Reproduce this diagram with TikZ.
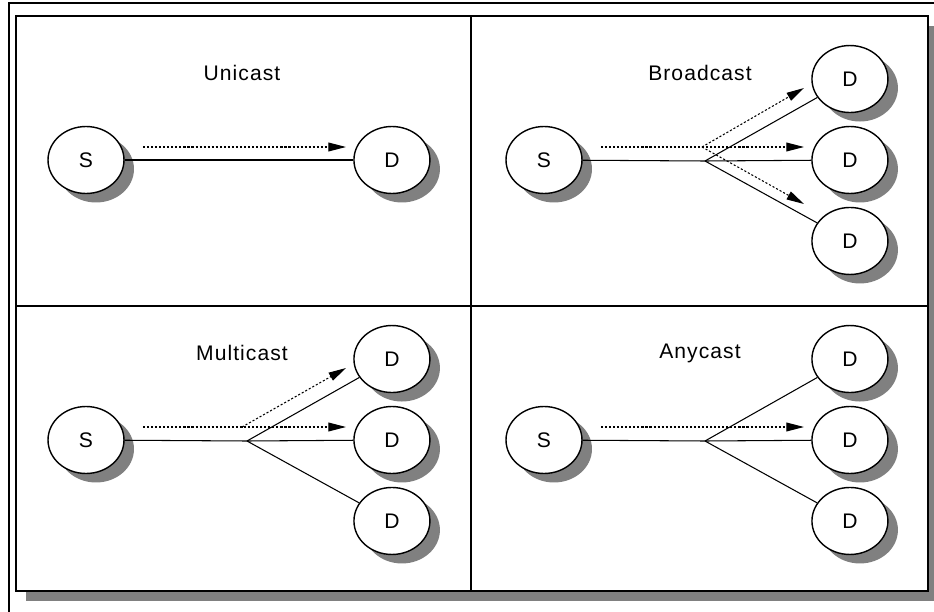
\documentclass[tikz,border=0pt]{standalone}
\usepackage{fontspec}
\setmainfont{Liberation Sans}
\newfontfamily\titlefont[LetterSpace=5]{Liberation Sans}
\usetikzlibrary{arrows.meta,shadows,shapes.geometric,positioning}
\definecolor{shadowgray}{HTML}{808080}

\begin{document}
\begin{tikzpicture}[x=0.02cm, y=-0.02cm, node distance=1.62cm]
\tikzstyle{station} = [ellipse, draw=black, line width=0.8pt, fill=white, minimum width=1.52cm, minimum height=1.34cm, inner sep=0pt, font=\fontsize{12}{14}\selectfont, drop shadow={shadow xshift=0.2cm, shadow yshift=-0.18cm, fill=shadowgray, opacity=1}]
\tikzstyle{title} = [font=\titlefont\fontsize{12}{14}\selectfont]
\tikzstyle{link} = [line width=0.6pt]
\tikzstyle{flow} = [line width=0.6pt, dash pattern=on 1.2pt off 1.1pt, -{Triangle[length=10pt,width=5pt]}]

\useasboundingbox (0,0) rectangle (934,612);

% frame
\fill [shadowgray] (26,26) rectangle (934,601);
\draw [line width=1.1pt, fill=white] (16,16) rectangle (928,591);
\draw [line width=0.6pt] (9,612) -- (9,3) -- (934,3);
\draw [line width=0.6pt] (471,16) -- (471,591);
\draw [line width=0.6pt] (16,306) -- (928,306);

% unicast
\node (lab1) [title] at (242,73) {Unicast};
\node (s1) [station] at (86,160) {S};
\node (d1) [station, right of=s1, xshift=4.5cm] {D};
\coordinate (p1) at (143,147);
\coordinate (t1) at (346,147);
\draw [link] (s1) -- (d1);
\draw [flow] (p1) -- (t1);

% broadcast
\begin{scope}[shift={(458,0)}]
\node (lab2) [title] at (242,73) {Broadcast};
\node (s2) [station] at (86,160) {S};
\node (d2b) [station, right of=s2, xshift=4.5cm] {D};
\node (d2a) [station, above of=d2b] {D};
\node (d2c) [station, below of=d2b] {D};
\coordinate (b2) at (247,161);
\coordinate (p2) at (143,147);
\coordinate (q2) at (244,147);
\coordinate (t2a) at (346,88);
\coordinate (t2b) at (346,147);
\coordinate (t2c) at (346,204);
\draw [link] (s2) -- (b2);
\draw [link] (b2) -- (d2a);
\draw [link] (b2) -- (d2b);
\draw [link] (b2) -- (d2c);
\draw [flow] (p2) -- (q2) -- (t2b);
\draw [flow] (q2) -- (t2a);
\draw [flow] (q2) -- (t2c);
\end{scope}

% multicast
\begin{scope}[shift={(0,280)}]
\node (lab3) [title] at (242,73) {Multicast};
\node (s3) [station] at (86,160) {S};
\node (d3b) [station, right of=s3, xshift=4.5cm] {D};
\node (d3a) [station, above of=d3b] {D};
\node (d3c) [station, below of=d3b] {D};
\coordinate (b3) at (247,161);
\coordinate (p3) at (143,147);
\coordinate (q3) at (242,147);
\coordinate (t3a) at (346,88);
\coordinate (t3b) at (346,147);
\draw [link] (s3) -- (b3);
\draw [link] (b3) -- (d3a);
\draw [link] (b3) -- (d3b);
\draw [link] (b3) -- (d3c);
\draw [flow] (p3) -- (q3) -- (t3b);
\draw [flow] (q3) -- (t3a);
\end{scope}

% anycast
\begin{scope}[shift={(458,280)}]
\node (lab4) [title] at (242,73) {Anycast};
\node (s4) [station] at (86,160) {S};
\node (d4b) [station, right of=s4, xshift=4.5cm] {D};
\node (d4a) [station, above of=d4b] {D};
\node (d4c) [station, below of=d4b] {D};
\coordinate (b4) at (247,161);
\coordinate (p4) at (143,147);
\coordinate (t4) at (346,147);
\draw [link] (s4) -- (b4);
\draw [link] (b4) -- (d4a);
\draw [link] (b4) -- (d4b);
\draw [link] (b4) -- (d4c);
\draw [flow] (p4) -- (t4);
\end{scope}

\end{tikzpicture}
\end{document}
